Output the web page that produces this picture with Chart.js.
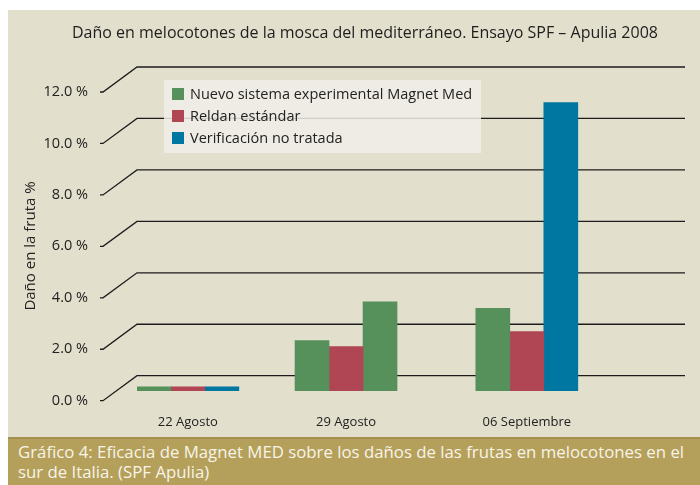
<!DOCTYPE html>
<html lang="es">
<head>
<meta charset="UTF-8" />
<title>Daño en melocotones - Ensayo SPF Apulia 2008</title>
<script src="https://cdn.jsdelivr.net/npm/chart.js"></script>
<style>
    body { margin: 0; background: #fff; font-family: 'Open Sans', sans-serif; }
    .panel { position: absolute; left: 8px; top: 10px; width: 692px; height: 428px; background: #e2dfcc; }
    #grafico { position: absolute; left: 0; top: 0; }
    .titulo { position: absolute; left: 72px; top: 21px; font-size: 16px; color: #1e1e1e; white-space: nowrap; }
    #leyenda { position: absolute; left: 164px; top: 80px; width: 317px; height: 73px; box-sizing: border-box;
               padding: 3px 0 0 8px; background: rgba(240, 239, 232, 0.85); font-size: 14.5px; color: #222; }
    #leyenda div { height: 22px; line-height: 22px; white-space: nowrap; }
    #leyenda span { display: inline-block; width: 12px; height: 12px; margin-right: 6px; vertical-align: -1px; }
    .pie { position: absolute; left: 8px; top: 437px; width: 692px; height: 48px; box-sizing: border-box;
           background: #b4a05b; border-top: 2px solid #a38e4b; color: #f8f4e8; font-size: 16.8px;
           line-height: 20px; padding: 3px 0 0 10px; }
</style>
</head>
<body>
    <div class="panel"></div>
    <canvas id="grafico" width="700" height="438"></canvas>
    <div class="titulo">Daño en melocotones de la mosca del mediterráneo. Ensayo SPF – Apulia 2008</div>
    <div id="leyenda"></div>
    <div class="pie">Gráfico 4: Eficacia de Magnet MED sobre los daños de las frutas en melocotones en el sur de Italia. (SPF Apulia)</div>

<script>
    // Datos
    const fechas = ['22 Agosto', '29 Agosto', '06 Septiembre'];
    const diasEnsayo = [0, 7, 15];   // dias desde el 22 de agosto
    const series = ['Nuevo sistema experimental Magnet Med', 'Reldan estándar', 'Verificación no tratada'];
    const nuevoSistema = [0.15, 1.95, 3.2];
    const reldan = [0.15, 1.72, 2.3];
    const verificacion = [0.15, 3.45, 11.2];
    const ticksY = [0, 2, 4, 6, 8, 10, 12];

    const verde = '#56905a', rojo = '#b04553', azul = '#0077a1';

    const toXY = vals => vals.map((v, i) => ({ x: diasEnsayo[i], y: v }));

    // lineas de la cuadricula en perspectiva (tick delante, linea detras)
    const lineasPerspectiva = {
        id: 'lineasPerspectiva',
        beforeDatasetsDraw(chart) {
            const { ctx, chartArea, scales: { y } } = chart;
            ctx.save();
            ctx.strokeStyle = '#1c1c1c';
            ctx.lineWidth = 1.3;
            y.ticks.forEach(t => {
                const py = y.getPixelForValue(t.value);
                ctx.beginPath();
                ctx.moveTo(chartArea.left - 37, py + 10);
                ctx.lineTo(chartArea.left - 34, py + 10);
                ctx.lineTo(chartArea.left, py - 15);
                ctx.lineTo(chartArea.right, py - 15);
                ctx.stroke();
            });
            ctx.restore();
        }
    };

    Chart.defaults.font.family = "'Open Sans', sans-serif";
    Chart.defaults.color = '#222';

    const chart = new Chart(document.getElementById('grafico'), {
        type: 'bar',
        data: {
            datasets: [
                { label: series[0], data: toXY(nuevoSistema), backgroundColor: verde },
                { label: series[1], data: toXY(reldan), backgroundColor: rojo },
                // en el original la barra del 29 de agosto sale en verde
                { label: series[2], data: toXY(verificacion), backgroundColor: [azul, verde, azul] }
            ]
        },
        options: {
            responsive: false,
            animation: false,
            barThickness: 34,
            layout: { padding: { top: 82, right: 15, left: 0, bottom: 0 } },
            plugins: { legend: { display: false }, tooltip: { enabled: false } },
            scales: {
                x: {
                    type: 'linear', min: -2.25, max: 22, offset: false,
                    afterBuildTicks(s) { s.ticks = diasEnsayo.map(v => ({ value: v })); },
                    afterFit(s) { s.height = 28; },
                    grid: { display: false, drawTicks: false },
                    border: { display: false },
                    ticks: { padding: 4, font: { size: 13 }, callback: (v, i) => fechas[i] }
                },
                y: {
                    min: -0.75, max: 12,
                    afterBuildTicks(s) { s.ticks = ticksY.map(v => ({ value: v })); },
                    afterFit(s) { s.width = 137; },
                    grid: { display: false, drawTicks: true, tickLength: 45 },
                    border: { display: false },
                    ticks: { padding: 4, labelOffset: 10, font: { size: 14.5 }, callback: v => v.toFixed(1) + ' %' },
                    title: { display: true, text: 'Daño en la fruta %', font: { size: 15 }, padding: { top: 22, bottom: 0 } }
                }
            }
        },
        plugins: [lineasPerspectiva]
    });

    // leyenda en html
    const leyenda = document.getElementById('leyenda');
    chart.data.datasets.forEach(ds => {
        const fila = document.createElement('div');
        const color = Array.isArray(ds.backgroundColor) ? ds.backgroundColor[0] : ds.backgroundColor;
        fila.innerHTML = '<span style="background:' + color + '"></span>' + ds.label;
        leyenda.appendChild(fila);
    });
</script>
</body>
</html>
